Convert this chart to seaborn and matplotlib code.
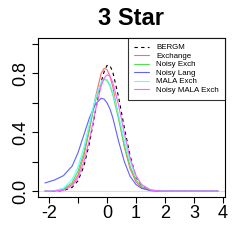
import matplotlib
matplotlib.use("Agg")
from matplotlib import pyplot as plt
import pandas as pd
import seaborn as sns

# grid of x positions
x = [-2.14, -1.8, -1.5, -1.2, -1.0, -0.8, -0.6, -0.4, -0.2, -0.1, 0.0, 0.1,
     0.2, 0.4, 0.6, 0.8, 1.0, 1.2, 1.5, 1.8, 2.2, 3.0, 3.83]

# density values per method
bergm = [0.0, 0.0, 0.004, 0.025, 0.07, 0.166, 0.33, 0.54, 0.74, 0.81, 0.853, 0.853,
         0.81, 0.64, 0.43, 0.24, 0.095, 0.035, 0.005, 0.001, 0.0, 0.0, 0.0]
exchange = [0.0, 0.001, 0.008, 0.046, 0.108, 0.235, 0.42, 0.635, 0.80, 0.833, 0.826, 0.782,
            0.71, 0.505, 0.30, 0.15, 0.063, 0.022, 0.003, 0.0, 0.0, 0.0, 0.0]
noisy_exch = [0.0, 0.002, 0.013, 0.059, 0.135, 0.26, 0.433, 0.61, 0.735, 0.758, 0.753, 0.717,
              0.657, 0.489, 0.31, 0.167, 0.077, 0.03, 0.005, 0.001, 0.0, 0.0, 0.0]
noisy_lang = [0.055, 0.076, 0.105, 0.17, 0.26, 0.38, 0.50, 0.59, 0.63, 0.625, 0.60, 0.56,
              0.50, 0.34, 0.20, 0.10, 0.045, 0.018, 0.004, 0.001, 0.0, 0.0, 0.0]
mala_exch = [0.0, 0.004, 0.02, 0.079, 0.164, 0.296, 0.464, 0.63, 0.742, 0.764, 0.758, 0.727,
             0.672, 0.516, 0.344, 0.199, 0.10, 0.043, 0.009, 0.002, 0.0, 0.0, 0.0]
noisy_mala = [0.0, 0.001, 0.006, 0.036, 0.09, 0.195, 0.355, 0.547, 0.714, 0.766, 0.79, 0.78,
              0.739, 0.585, 0.392, 0.222, 0.107, 0.043, 0.008, 0.001, 0.0, 0.0, 0.0]

methods = ["BERGM", "Exchange", "Noisy Exch", "Noisy Lang", "MALA Exch", "Noisy MALA Exch"]
series = [bergm, exchange, noisy_exch, noisy_lang, mala_exch, noisy_mala]
colors = ["black", "#FF6A6A", "#50E050", "#6060FF", "#60FFFF", "#FF60FF"]

xtick_vals = [-2, -1, 0, 1, 2, 3, 4]
xtick_labels = ["-2", "", "0", "1", "2", "3", "4"]
ytick_vals = [0.0, 0.2, 0.4, 0.6, 0.8, 1.0]
ytick_labels = ["0.0", "", "0.4", "", "0.8", ""]

sns.set_style("ticks")
plt.rcParams['font.family'] = ['Liberation Sans', 'DejaVu Sans']

fig = plt.figure(figsize=(2.45, 2.45), dpi=100)
ax = fig.add_axes([0.155, 0.196, 0.763, 0.649])

# light grey zero line
ax.axhline(0, color="#dddddd", lw=0.8, zorder=0)

for name, vals, col in zip(methods, series, colors):
    df = pd.DataFrame({"x": x, "y": vals})
    ls = (0, (3, 3)) if name == "BERGM" else "-"
    sns.lineplot(data=df, x="x", y="y", color=col, lw=0.8, linestyle=ls,
                 label=name, ax=ax)

ax.set_xlim(-2.38, 4.07)
ax.set_ylim(-0.04, 1.04)
ax.set_xticks(xtick_vals)
ax.set_xticklabels(xtick_labels)
ax.set_yticks(ytick_vals)
ax.set_yticklabels(ytick_labels, rotation=90, va="center")
ax.tick_params(axis="both", length=4, width=0.8, labelsize=13, pad=2, colors="black")
ax.set_xlabel("")
ax.set_ylabel("")
for sp in ax.spines.values():
    sp.set_visible(True)
    sp.set_color("black")
    sp.set_linewidth(0.8)

ax.set_title("3 Star", fontsize=17, fontweight="bold", pad=9, color="black")

leg = ax.legend(loc="upper right", bbox_to_anchor=(1, 1), borderaxespad=0,
                frameon=True, fancybox=False, edgecolor="black", fontsize=5.7,
                handlelength=1.9, handletextpad=0.9, labelspacing=0.12,
                borderpad=0.75)
leg.get_frame().set_linewidth(0.8)
for t in leg.get_texts():
    t.set_color("black")

fig.savefig("out.png", dpi=100)
